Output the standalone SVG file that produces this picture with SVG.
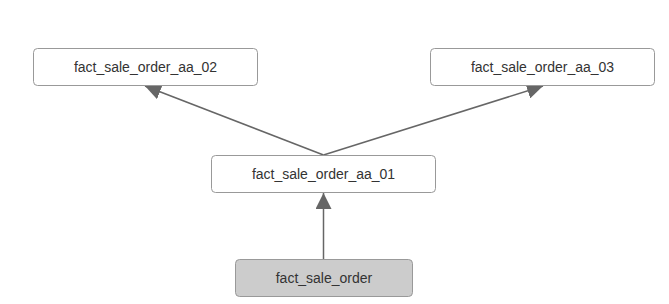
<svg xmlns="http://www.w3.org/2000/svg" width="669" height="304" viewBox="0 0 669 304">
<style>
.box{fill:#fff;stroke:#999;stroke-width:1}
.src{fill:#ccc;stroke:#999;stroke-width:1}
.lbl{font-family:"Liberation Sans",Arial,sans-serif;font-size:14px;fill:#333;text-anchor:middle}
.edge{stroke:#666;stroke-width:1.5;fill:none}
</style>
<defs>
<marker id="arrow" viewBox="0 0 16 16" refX="16" refY="8" markerWidth="16" markerHeight="16" markerUnits="userSpaceOnUse" orient="auto">
<path d="M0,0 L16,8 L0,16 z" fill="#666"/>
</marker>
</defs>
<rect width="669" height="304" fill="#fff"/>
<g id="connectors">
<line class="edge" x1="323.5" y1="259" x2="323.5" y2="193" marker-end="url(#arrow)"/>
<line class="edge" x1="323.5" y1="155" x2="145" y2="86" marker-end="url(#arrow)"/>
<line class="edge" x1="323.5" y1="155" x2="543" y2="86" marker-end="url(#arrow)"/>
</g>
<g id="node-aa02">
<rect class="box" x="33.5" y="48.5" width="224" height="37" rx="4"/>
<text class="lbl" x="145.5" y="72">fact_sale_order_aa_02</text>
</g>
<g id="node-aa03">
<rect class="box" x="430.5" y="48.5" width="224" height="37" rx="4"/>
<text class="lbl" x="542.5" y="72">fact_sale_order_aa_03</text>
</g>
<g id="node-aa01">
<rect class="box" x="211.5" y="155.5" width="224" height="37" rx="4"/>
<text class="lbl" x="323.5" y="179">fact_sale_order_aa_01</text>
</g>
<g id="node-src">
<rect class="src" x="235.5" y="259.5" width="177" height="37" rx="4"/>
<text class="lbl" x="324" y="283">fact_sale_order</text>
</g>
</svg>
